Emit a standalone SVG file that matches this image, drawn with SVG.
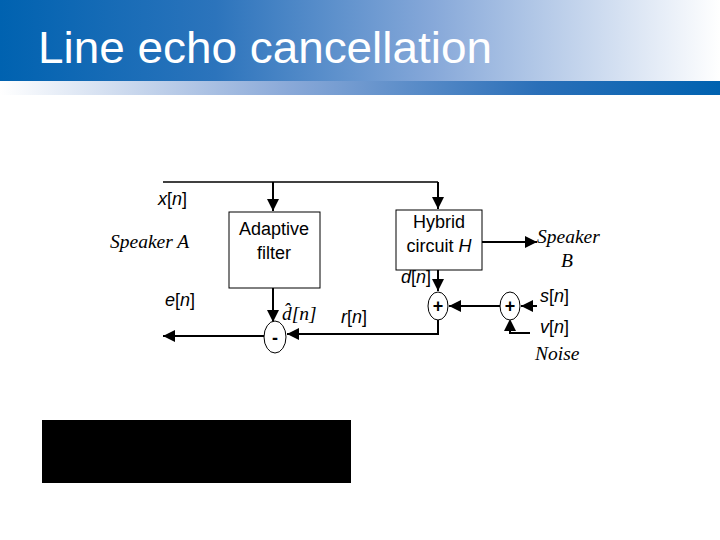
<svg xmlns="http://www.w3.org/2000/svg" width="720" height="540" viewBox="0 0 720 540">
<defs>
<linearGradient id="tg" x1="0" y1="0" x2="1" y2="0">
<stop offset="0" stop-color="#0062b0"/>
<stop offset="0.3" stop-color="#2c74bc"/>
<stop offset="0.6" stop-color="#86a8d9"/>
<stop offset="1" stop-color="#ffffff"/>
</linearGradient>
<linearGradient id="sg" x1="0" y1="0" x2="1" y2="0">
<stop offset="0" stop-color="#ffffff"/>
<stop offset="0.4" stop-color="#8aa9d8"/>
<stop offset="0.75" stop-color="#2a6fb8"/>
<stop offset="1" stop-color="#0062b0"/>
</linearGradient>
<marker id="ah" markerUnits="userSpaceOnUse" markerWidth="14" markerHeight="12" refX="12" refY="6" orient="auto">
<path d="M0,0 L12,6 L0,12 Z" fill="#000"/>
</marker>
</defs>
<style>
.ln{fill:none;stroke:#000;stroke-width:2}
.thin{fill:none;stroke:#000;stroke-width:1.3}
.box{fill:#fff;stroke:#000;stroke-width:1}
.circ{fill:#fff;stroke:#000;stroke-width:1}
.t{font-family:"Liberation Sans","DejaVu Sans",sans-serif;font-size:18px;fill:#000}
.ser{font-family:"Liberation Serif","DejaVu Serif",serif;font-style:italic;font-size:19.5px;fill:#000}
.it{font-style:italic}
.sym{font-family:"Liberation Sans","DejaVu Sans",sans-serif;font-size:18px;font-weight:bold;fill:#000}
</style>
<rect x="0" y="0" width="720" height="81" fill="url(#tg)"/>
<rect x="0" y="81" width="720" height="14" fill="url(#sg)"/>
<text x="38" y="63" font-family="Liberation Sans, Arial, sans-serif" font-size="44" fill="#fff" textLength="454" lengthAdjust="spacingAndGlyphs">Line echo cancellation</text>

<g id="connectors">
<path class="thin" d="M163,182 H438"/>
<path class="ln" d="M273,182 V211" marker-end="url(#ah)"/>
<path class="ln" d="M438,182 V209" marker-end="url(#ah)"/>
<path class="ln" d="M273,288 V322" marker-end="url(#ah)"/>
<path class="ln" d="M264,336 H163" marker-end="url(#ah)"/>
<path class="ln" d="M438,320 V334 H287" marker-end="url(#ah)"/>
<path class="ln" d="M482,242 H537" marker-end="url(#ah)"/>
<path class="ln" d="M438,270 V291" marker-end="url(#ah)"/>
<path class="ln" d="M500,306 H449" marker-end="url(#ah)"/>
<path class="ln" d="M537,306 H521" marker-end="url(#ah)"/>
<path class="ln" d="M530,333 H510 V326"/>
<path d="M504,331 L510,319 L516,331 Z" fill="#000"/>
</g>

<g id="adaptive">
<rect class="box" x="229" y="212" width="91" height="76"/>
<text class="t" x="274" y="235" text-anchor="middle">Adaptive</text>
<text class="t" x="274" y="259" text-anchor="middle">filter</text>
</g>
<g id="hybrid">
<rect class="box" x="396" y="210" width="86" height="60"/>
<text class="t" x="439" y="228" text-anchor="middle">Hybrid</text>
<text class="t" x="439" y="252" text-anchor="middle">circuit <tspan class="it">H</tspan></text>
</g>
<g id="minus">
<ellipse class="circ" cx="275" cy="337" rx="11" ry="16"/>
<text class="sym" x="275" y="344" text-anchor="middle">-</text>
</g>
<g id="plus1">
<ellipse class="circ" cx="438" cy="306" rx="10" ry="14"/>
<text class="sym" x="438" y="312" text-anchor="middle">+</text>
</g>
<g id="plus2">
<ellipse class="circ" cx="510" cy="306" rx="10" ry="14"/>
<text class="sym" x="510" y="312" text-anchor="middle">+</text>
</g>

<g id="labels">
<text class="t" x="158" y="205"><tspan class="it">x</tspan>[<tspan class="it">n</tspan>]</text>
<text class="ser" x="110" y="248" font-size="20">Speaker A</text>
<text class="t" x="165" y="306"><tspan class="it">e</tspan>[<tspan class="it">n</tspan>]</text>
<text class="ser" x="282" y="320">d&#x302;[n]</text>
<text class="t" x="341" y="323"><tspan class="it">r</tspan>[<tspan class="it">n</tspan>]</text>
<text class="t" x="401" y="283"><tspan class="it">d</tspan>[<tspan class="it">n</tspan>]</text>
<text class="ser" x="537" y="243">Speaker</text>
<text class="ser" x="567" y="267" text-anchor="middle">B</text>
<text class="t" x="540" y="302"><tspan class="it">s</tspan>[<tspan class="it">n</tspan>]</text>
<text class="t" x="540" y="333"><tspan class="it">v</tspan>[<tspan class="it">n</tspan>]</text>
<text class="ser" x="535" y="360">Noise</text>
</g>
<rect x="42" y="420" width="309" height="63" fill="#000"/>
</svg>
